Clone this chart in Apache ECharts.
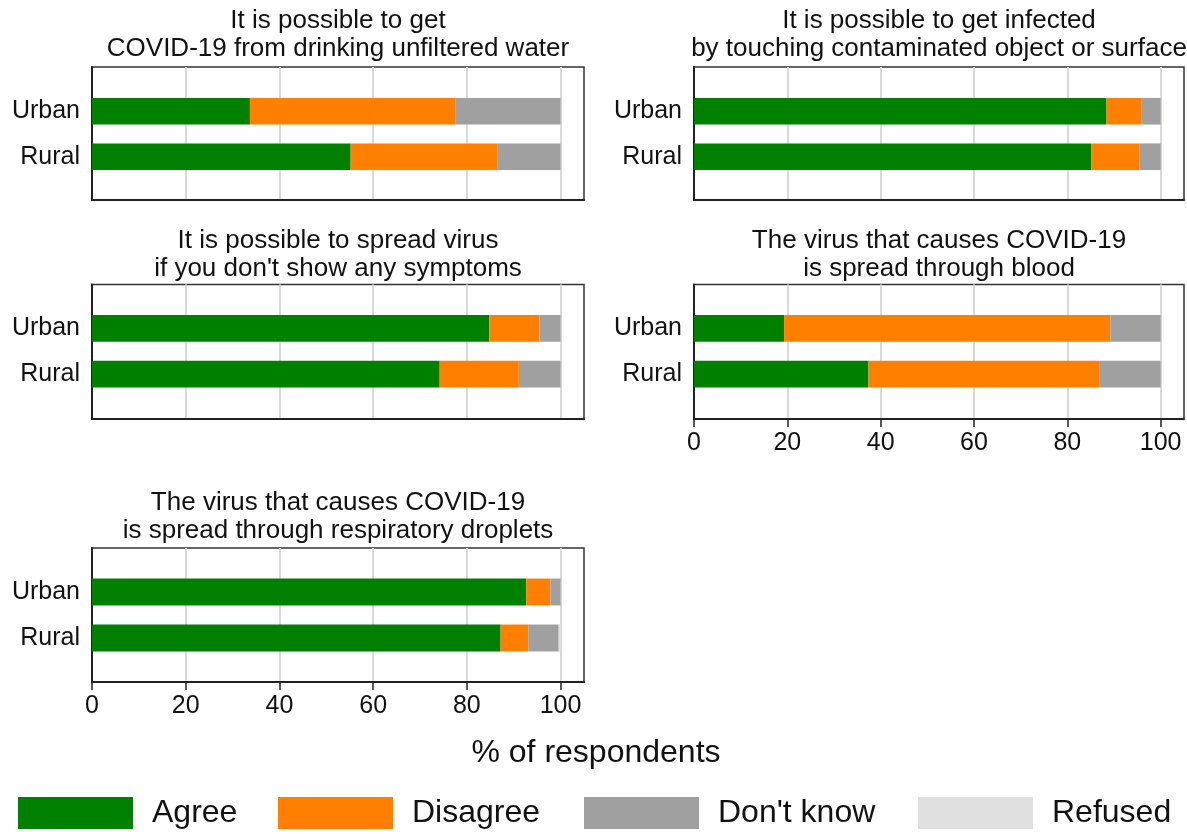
<!DOCTYPE html>
<html>
<head>
<meta charset="utf-8">
<script src="https://cdn.jsdelivr.net/npm/echarts@6/dist/echarts.min.js"></script>
<style>
  html, body { margin: 0; padding: 0; background: #fff; }
  #main { width: 1187px; height: 834px; }
</style>
</head>
<body>
<div id="main"></div>
<script>
// data
var categories = ['Urban', 'Rural'];
var panelTitles = [
  'It is possible to get\nCOVID-19 from drinking unfiltered water',
  'It is possible to get infected\nby touching contaminated object or surface',
  "It is possible to spread virus\nif you don't show any symptoms",
  'The virus that causes COVID-19\nis spread through blood',
  'The virus that causes COVID-19\nis spread through respiratory droplets'
];
var agree    = [[33.7, 55.2], [88.4, 85.1], [84.8, 74.2], [19.3, 37.4], [92.7, 87.2]];
var disagree = [[43.8, 31.4], [7.4, 10.4], [10.7, 16.9], [69.9, 49.4], [5.1, 5.9]];
var dontKnow = [[22.5, 13.4], [4.2, 4.5], [4.5, 8.9], [10.8, 13.2], [2.2, 6.5]];
var refused  = [[0, 0], [0, 0], [0, 0], [0, 0], [0, 0.4]];
var xTicks = [0, 20, 40, 60, 80, 100];

var seriesNames = ['Agree', 'Disagree', "Don't know", 'Refused'];
var seriesData = [agree, disagree, dontKnow, refused];
var colors = ['#008000', '#ff8000', '#a0a0a0', '#e0e0e0'];

var FONT = '"Liberation Sans", Arial, Helvetica, sans-serif';

// layout of each panel
var panels = [
  { left: 92,  width: 492, frameTop: 67,    frameH: 133,   barTop: 88.5,  barH: 91,   titleTop: 7,   xLabels: false },
  { left: 694, width: 490, frameTop: 67,    frameH: 133,   barTop: 88.5,  barH: 91,   titleTop: 7,   xLabels: false },
  { left: 92,  width: 492, frameTop: 284.5, frameH: 134.5, barTop: 305.5, barH: 91.5, titleTop: 227, xLabels: false },
  { left: 694, width: 490, frameTop: 284.5, frameH: 134.5, barTop: 305.5, barH: 91.5, titleTop: 227, xLabels: true },
  { left: 92,  width: 492, frameTop: 548,   frameH: 134,   barTop: 569,   barH: 92,   titleTop: 489, xLabels: true }
];

var grid = [], xAxis = [], yAxis = [], series = [], title = [];

panels.forEach(function (p, i) {
  // frame grid: border, split lines and x axis
  grid.push({ left: p.left, top: p.frameTop, width: p.width, height: p.frameH,
    show: true, borderColor: '#333', borderWidth: 1.5, containLabel: false });
  // bar grid
  grid.push({ left: p.left, top: p.barTop, width: p.width, height: p.barH, containLabel: false });

  xAxis.push({
    type: 'value', gridIndex: 2 * i, min: 0, max: 105, interval: 20,
    axisLine: { show: true, lineStyle: { color: '#222', width: 2 } },
    axisTick: { show: p.xLabels, length: 8, customValues: xTicks, lineStyle: { color: '#222', width: 1.5 } },
    axisLabel: { show: p.xLabels, customValues: xTicks, margin: 12, fontSize: 25, color: '#111', fontFamily: FONT },
    splitLine: { show: true, lineStyle: { color: '#d9d9d9', width: 2 } }
  });
  xAxis.push({ type: 'value', gridIndex: 2 * i + 1, min: 0, max: 105, show: false });

  yAxis.push({
    type: 'value', gridIndex: 2 * i, min: 0, max: 1,
    axisLine: { show: true, lineStyle: { color: '#222', width: 2 } },
    axisTick: { show: false }, axisLabel: { show: false }, splitLine: { show: false }
  });
  yAxis.push({
    type: 'category', gridIndex: 2 * i + 1, data: categories, inverse: true,
    axisLine: { show: false }, axisTick: { show: false },
    axisLabel: { margin: 12, fontSize: 25, color: '#111', fontFamily: FONT, padding: [3, 0, 0, 0] }
  });

  seriesNames.forEach(function (name, k) {
    series.push({
      name: name, type: 'bar', stack: 'p' + i,
      xAxisIndex: 2 * i + 1, yAxisIndex: 2 * i + 1,
      barWidth: '58.5%',
      itemStyle: { color: colors[k] },
      data: seriesData[k][i]
    });
  });

  title.push({
    text: panelTitles[i], left: p.left + p.width / 2, top: p.titleTop, textAlign: 'center', padding: 0,
    textStyle: { fontSize: 26, lineHeight: 28, fontWeight: 'normal', color: '#111', fontFamily: FONT }
  });
});

title.push({
  text: '% of respondents', left: 596, top: 737, textAlign: 'center', padding: 0,
  textStyle: { fontSize: 32, fontWeight: 'normal', color: '#111', fontFamily: FONT }
});

var legendLefts = [18, 278, 584, 918];
var legend = seriesNames.map(function (name, k) {
  return {
    data: [name], left: legendLefts[k], top: 797, padding: 0,
    icon: 'rect', itemWidth: 115, itemHeight: 32, selectedMode: false,
    textStyle: { fontSize: 32, color: '#111', fontFamily: FONT, padding: [0, 0, 0, 14] }
  };
});

var myChart = echarts.init(document.getElementById('main'));
myChart.setOption({
  animation: false,
  title: title,
  legend: legend,
  grid: grid,
  xAxis: xAxis,
  yAxis: yAxis,
  series: series
});
</script>
</body>
</html>
